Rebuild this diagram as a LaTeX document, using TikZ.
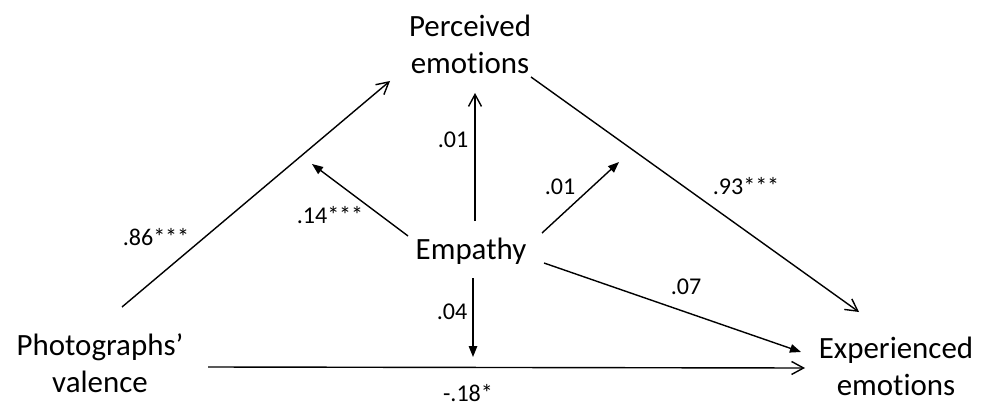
\documentclass[tikz,border=0pt]{standalone}
\usepackage{fontspec}
\setmainfont[Ligatures={TeX,NoCommon}]{Carlito}
\usetikzlibrary{arrows.meta}

\begin{document}
\begin{tikzpicture}[x=0.02cm,y=-0.02cm,
  var/.style={align=center,font=\fontsize{17.6}{21}\selectfont,inner sep=0pt},
  coef/.style={font=\fontsize{13.7}{16}\selectfont,inner sep=0pt},
  path/.style={line width=0.8pt,-{Straight Barb[length=2.4mm,width=2.6mm]}},
  mod/.style={line width=0.8pt,-{Triangle[length=2.2mm,width=1.7mm]}}]
\useasboundingbox (0,0) rectangle (989,405);
% Variables
\node[var] (photo) at (100,363) {Photographs’\\valence};
\node[var] (perc) at (470,44) {Perceived\\emotions};
\node[var] (emp) at (471,251) {Empathy};
\node[var] (exp) at (896,366) {Experienced\\emotions};
% Points on the paths hit by the moderator
\coordinate (m-a) at (312,164);
\coordinate (m-b) at (619,162);
\coordinate (m-c) at (473,357);
% Main paths
\draw[path] ([shift={(22,-56)}]photo.center) -- ([shift={(-80,37)}]perc.center);
\draw[path] ([shift={(61,33)}]perc.center) -- ([shift={(-37,-54)}]exp.center);
\draw[path] ([shift={(108,4)}]photo.center) -- ([shift={(-91,2)}]exp.center);
\draw[path] ([shift={(4,-30)}]emp.center) -- ([shift={(5,49)}]perc.center);
% Moderation by empathy
\draw[mod] ([shift={(-63,-15)}]emp.center) -- (m-a);
\draw[mod] ([shift={(71,-18)}]emp.center) -- (m-b);
\draw[mod] ([shift={(2,27)}]emp.center) -- (m-c);
\draw[mod] ([shift={(73,12)}]emp.center) -- ([shift={(-95,-14)}]exp.center);
% Coefficients
\node[coef] (c-pv) at (156,237) {.86***};
\node[coef] (c-ea) at (330,215) {.14***};
\node[coef] (c-ep) at (453,140) {.01};
\node[coef] (c-eb) at (560,187) {.01};
\node[coef] (c-pe) at (746,186) {.93***};
\node[coef] (c-ex) at (686,287) {.07};
\node[coef] (c-ec) at (452,312) {.04};
\node[coef] (c-vx) at (468,393) {-.18*};
\end{tikzpicture}
\end{document}
